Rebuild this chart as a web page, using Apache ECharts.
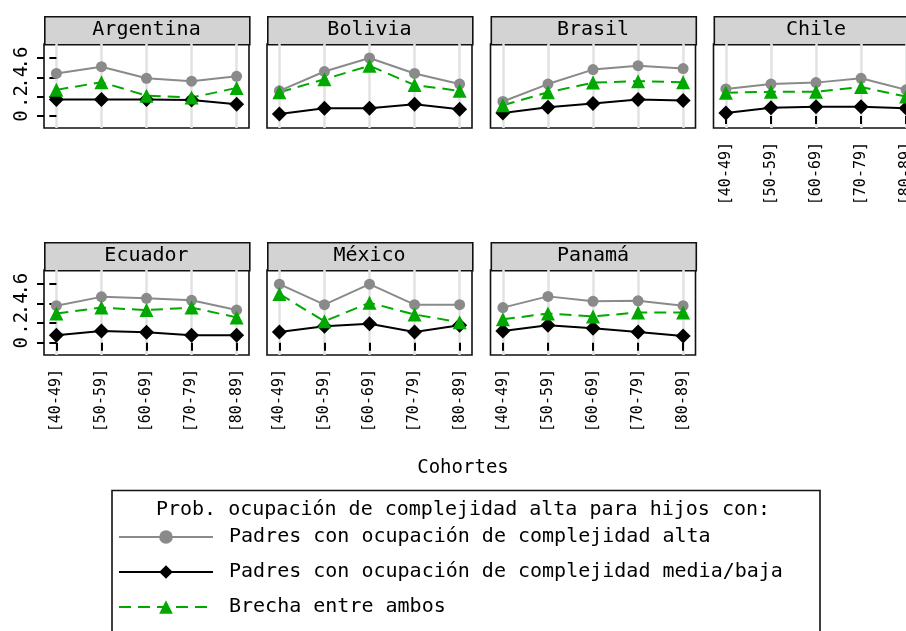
<!DOCTYPE html>
<html>
<head>
<meta charset="utf-8">
<script src="https://cdn.jsdelivr.net/npm/echarts@6/dist/echarts.min.js"></script>
<style>
html, body { margin: 0; padding: 0; background: #fff; }
#main { width: 906px; height: 631px; }
</style>
</head>
<body>
<div id="main"></div>
<script>
// datos
var cohortes = ['[40-49]', '[50-59]', '[60-69]', '[70-79]', '[80-89]'];
var paises = ['Argentina', 'Bolivia', 'Brasil', 'Chile', 'Ecuador', 'México', 'Panamá'];
// Padres con ocupacion de complejidad alta (un array por pais)
var padresAlta = [
	[0.44, 0.51, 0.39, 0.36, 0.41],
	[0.26, 0.46, 0.60, 0.44, 0.33],
	[0.15, 0.33, 0.48, 0.52, 0.49],
	[0.28, 0.33, 0.345, 0.39, 0.27],
	[0.38, 0.47, 0.455, 0.435, 0.335],
	[0.60, 0.39, 0.60, 0.39, 0.39],
	[0.36, 0.475, 0.425, 0.43, 0.38]
];
// Padres con ocupacion de complejidad media/baja
var padresMedia = [
	[0.17, 0.17, 0.17, 0.165, 0.12],
	[0.02, 0.08, 0.08, 0.12, 0.07],
	[0.03, 0.09, 0.13, 0.17, 0.16],
	[0.03, 0.085, 0.095, 0.095, 0.08],
	[0.076, 0.12, 0.107, 0.076, 0.076],
	[0.11, 0.17, 0.195, 0.11, 0.18],
	[0.12, 0.18, 0.15, 0.11, 0.07]
];
// Brecha entre ambos
var brecha = [
	[0.27, 0.35, 0.21, 0.19, 0.29],
	[0.245, 0.38, 0.52, 0.32, 0.26],
	[0.11, 0.245, 0.345, 0.36, 0.35],
	[0.24, 0.25, 0.25, 0.30, 0.20],
	[0.30, 0.36, 0.335, 0.36, 0.26],
	[0.50, 0.22, 0.41, 0.29, 0.21],
	[0.24, 0.30, 0.27, 0.31, 0.31]
];
var yTicks = [0, 0.2, 0.4, 0.6];
var yTickLabels = ['0', '.2', '.4', '.6'];
var nombres = [
	'Padres con ocupación de complejidad alta',
	'Padres con ocupación de complejidad media/baja',
	'Brecha entre ambos'
];

var fuente = 'DejaVu Sans Mono';
var gris = '#8a8a8a';
var verde = '#00a800';
var colLeft = [44, 267, 490.5, 713.5];
var panelW = 205;
var yMin = -0.125, yMax = 0.745;

var grids = [], xAxes = [], yAxes = [], series = [], graphics = [];
var extraY = [];
var xTickVals = [];
for (var k = 0; k < cohortes.length; k++) xTickVals.push(k);

function etiquetaY(v) {
	var idx = yTicks.indexOf(Math.round(v * 10) / 10);
	return idx >= 0 ? yTickLabels[idx] : '';
}
function ejeY(gi, showTicks, labelVals) {
	return {
		type: 'value', gridIndex: gi, min: yMin, max: yMax,
		position: 'left', offset: 0,
		axisLine: { show: false },
		axisTick: {
			show: showTicks, length: 7, customValues: yTicks.slice(),
			lineStyle: { color: '#000', width: 2 }
		},
		axisLabel: {
			show: labelVals.length > 0, customValues: labelVals, rotate: 90, margin: 12,
			hideOverlap: false, fontFamily: fuente, fontSize: 19, color: '#000',
			formatter: etiquetaY
		},
		splitLine: { show: false }
	};
}

for (var i = 0; i < paises.length; i++) {
	var fila = i < 4 ? 0 : 1;
	var col = i < 4 ? i : i - 4;
	var gLeft = colLeft[col];
	var gTop = fila ? 270 : 44;
	var gH = fila ? 85 : 84;
	var showX = i >= 3;
	var showY = col == 0;

	grids.push({
		left: gLeft, top: gTop, width: panelW, height: gH,
		containLabel: false, outerBoundsMode: 'none',
		show: true, borderColor: '#111', borderWidth: 1.6, backgroundColor: '#fff'
	});
	xAxes.push({
		type: 'value', gridIndex: i, min: -0.275, max: 4.275,
		axisLine: { show: false },
		axisTick: {
			show: showX, length: 8, customValues: xTickVals.slice(),
			lineStyle: { color: '#000', width: 2 }
		},
		axisLabel: {
			show: showX, customValues: xTickVals.slice(), rotate: 90, margin: 14,
			hideOverlap: false, fontFamily: fuente, fontSize: 15, color: '#000',
			formatter: function(v) { return cohortes[Math.round(v)]; }
		},
		splitLine: { show: true, lineStyle: { color: '#e2e2e2', width: 2.5 } }
	});
	// etiquetas alternas en dos ejes para que no se oculten por solaparse
	yAxes.push(ejeY(i, showY, showY ? [yTicks[0], yTicks[2]] : []));
	if (showY) extraY.push(ejeY(i, true, [yTicks[1], yTicks[3]]));

	var dAlta = [], dMedia = [], dBrecha = [];
	for (var j = 0; j < cohortes.length; j++) {
		dAlta.push([j, padresAlta[i][j]]);
		dMedia.push([j, padresMedia[i][j]]);
		dBrecha.push([j, brecha[i][j]]);
	}
	series.push({
		name: nombres[0], type: 'line', xAxisIndex: i, yAxisIndex: i,
		data: dAlta, symbol: 'circle', symbolSize: 11,
		itemStyle: { color: gris }, lineStyle: { color: gris, width: 2 }
	});
	series.push({
		name: nombres[1], type: 'line', xAxisIndex: i, yAxisIndex: i,
		data: dMedia, symbol: 'diamond', symbolSize: 15,
		itemStyle: { color: '#000' }, lineStyle: { color: '#000', width: 2 }
	});
	series.push({
		name: nombres[2], type: 'line', xAxisIndex: i, yAxisIndex: i,
		data: dBrecha, symbol: 'triangle', symbolSize: 14,
		itemStyle: { color: verde }, lineStyle: { color: verde, width: 2, type: [12, 7] }
	});

	// franja con el nombre del pais
	graphics.push({
		type: 'rect', left: gLeft, top: gTop - 28,
		shape: { width: panelW, height: 28 },
		style: { fill: '#d3d3d3', stroke: '#111', lineWidth: 1.6 }
	});
	graphics.push({
		type: 'text', x: gLeft + panelW / 2, y: gTop - 14,
		style: {
			text: paises[i], font: '20px "' + fuente + '"', fill: '#000',
			textAlign: 'center', textVerticalAlign: 'middle'
		}
	});
}
yAxes = yAxes.concat(extraY);

// titulo eje x
graphics.push({
	type: 'text', x: 463, y: 468,
	style: { text: 'Cohortes', font: '19px "' + fuente + '"', fill: '#000', textAlign: 'center', textVerticalAlign: 'middle' }
});
// caja de leyenda
graphics.push({
	type: 'rect', left: 109.5, top: 488,
	shape: { width: 708, height: 160 },
	style: { fill: 'none', stroke: '#111', lineWidth: 1.6 }
});
graphics.push({
	type: 'text', x: 463, y: 510,
	style: {
		text: 'Prob. ocupación de complejidad alta para hijos con:',
		font: '20px "' + fuente + '"', fill: '#000', textAlign: 'center', textVerticalAlign: 'middle'
	}
});

var option = {
	animation: false,
	grid: grids,
	xAxis: xAxes,
	yAxis: yAxes,
	series: series,
	legend: {
		data: nombres, orient: 'vertical', left: 118, top: 527,
		itemWidth: 94, itemHeight: 17, itemGap: 15, padding: 0,
		textStyle: { fontFamily: fuente, fontSize: 20, color: '#000', padding: [0, 0, 0, 11] }
	},
	graphic: graphics
};
var myChart = echarts.init(document.getElementById('main'));
myChart.setOption(option);
</script>
</body>
</html>
